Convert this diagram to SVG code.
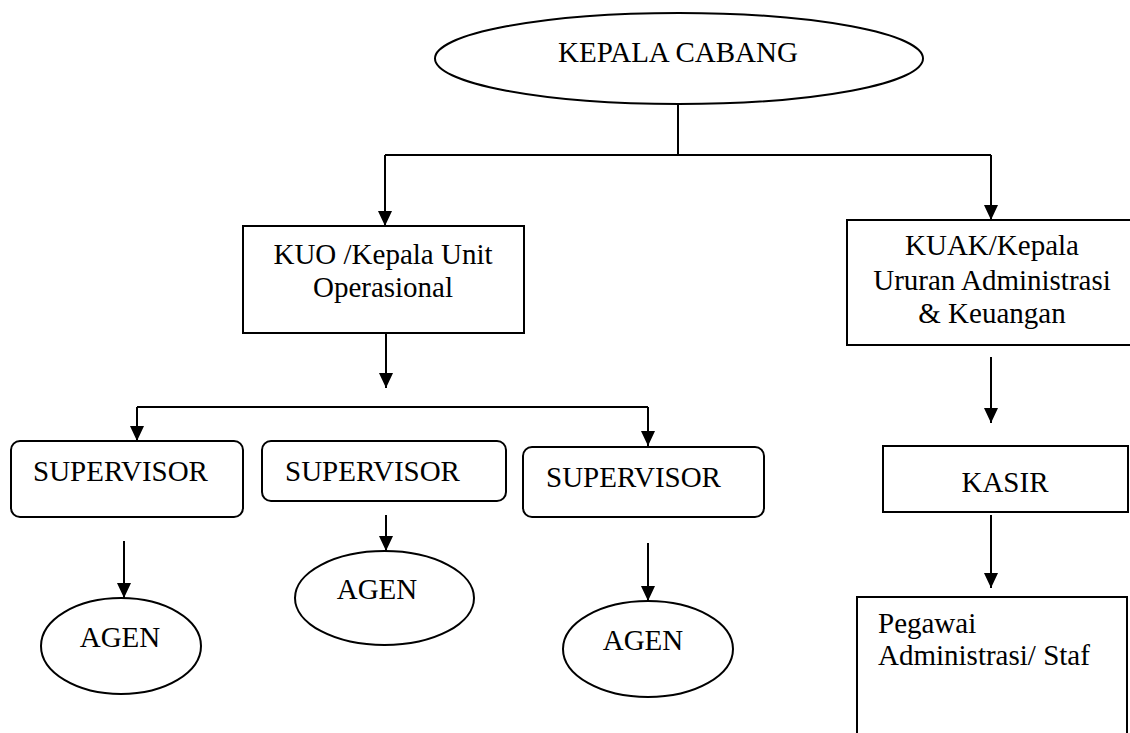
<svg xmlns="http://www.w3.org/2000/svg" width="1130" height="733" viewBox="0 0 1130 733">
  <style>
    .shape { fill: #ffffff; stroke: #000000; stroke-width: 2; }
    .conn { fill: none; stroke: #000000; stroke-width: 2; }
    .lbl { font-family: "Liberation Serif", "Times New Roman", serif; font-size: 29px; fill: #000000; }
    .mid { text-anchor: middle; }
  </style>
  <defs>
    <marker id="arrow" markerUnits="userSpaceOnUse" markerWidth="16" markerHeight="16" viewBox="0 0 16 16" refX="15" refY="8" orient="auto">
      <path d="M0,1 L15,8 L0,15 Z" fill="#000000"/>
    </marker>
  </defs>
  <rect x="0" y="0" width="1130" height="733" fill="#ffffff"/>

  <g id="connectors">
    <path class="conn" d="M678,104 L678,155"/>
    <path class="conn" d="M385,155 L991,155"/>
    <path class="conn" d="M385,155 L385,226" marker-end="url(#arrow)"/>
    <path class="conn" d="M991,155 L991,220" marker-end="url(#arrow)"/>
    <path class="conn" d="M386,333 L386,388" marker-end="url(#arrow)"/>
    <path class="conn" d="M137,407 L648,407"/>
    <path class="conn" d="M137,407 L137,441" marker-end="url(#arrow)"/>
    <path class="conn" d="M648,407 L648,446" marker-end="url(#arrow)"/>
    <path class="conn" d="M124,541 L124,598" marker-end="url(#arrow)"/>
    <path class="conn" d="M386,515 L386,551" marker-end="url(#arrow)"/>
    <path class="conn" d="M648,543 L648,601" marker-end="url(#arrow)"/>
    <path class="conn" d="M991,357 L991,423" marker-end="url(#arrow)"/>
    <path class="conn" d="M991,515 L991,588" marker-end="url(#arrow)"/>
  </g>

  <g id="kepala-cabang">
    <ellipse class="shape" cx="679" cy="58.5" rx="244" ry="45.5"/>
    <text class="lbl mid" x="678" y="62">KEPALA CABANG</text>
  </g>

  <g id="kuo">
    <rect class="shape" x="243" y="226" width="281" height="107"/>
    <text class="lbl mid" x="383" y="264">KUO /Kepala Unit</text>
    <text class="lbl mid" x="383" y="297">Operasional</text>
  </g>

  <g id="kuak">
    <rect class="shape" x="847" y="220" width="300" height="125"/>
    <text class="lbl mid" x="992" y="255">KUAK/Kepala</text>
    <text class="lbl mid" x="992" y="290">Ururan Administrasi</text>
    <text class="lbl mid" x="992" y="323">&amp; Keuangan</text>
  </g>

  <g id="supervisor-1">
    <rect class="shape" x="11" y="441" width="232" height="76" rx="9" ry="9"/>
    <text class="lbl" x="33" y="481">SUPERVISOR</text>
  </g>

  <g id="supervisor-2">
    <rect class="shape" x="262" y="441" width="244" height="60" rx="9" ry="9"/>
    <text class="lbl" x="285" y="481">SUPERVISOR</text>
  </g>

  <g id="supervisor-3">
    <rect class="shape" x="523" y="447" width="241" height="70" rx="9" ry="9"/>
    <text class="lbl" x="546" y="487">SUPERVISOR</text>
  </g>

  <g id="agen-1">
    <ellipse class="shape" cx="121" cy="646" rx="80" ry="48"/>
    <text class="lbl mid" x="120" y="647">AGEN</text>
  </g>

  <g id="agen-2">
    <ellipse class="shape" cx="384.5" cy="598" rx="89.5" ry="47"/>
    <text class="lbl mid" x="377" y="599">AGEN</text>
  </g>

  <g id="agen-3">
    <ellipse class="shape" cx="648" cy="649" rx="85" ry="48"/>
    <text class="lbl mid" x="643" y="650">AGEN</text>
  </g>

  <g id="kasir">
    <rect class="shape" x="883" y="446" width="245" height="66"/>
    <text class="lbl mid" x="1005" y="492">KASIR</text>
  </g>

  <g id="pegawai">
    <rect class="shape" x="857" y="597" width="270" height="150"/>
    <text class="lbl" x="878" y="633">Pegawai</text>
    <text class="lbl" x="878" y="665">Administrasi/ Staf</text>
  </g>
</svg>
